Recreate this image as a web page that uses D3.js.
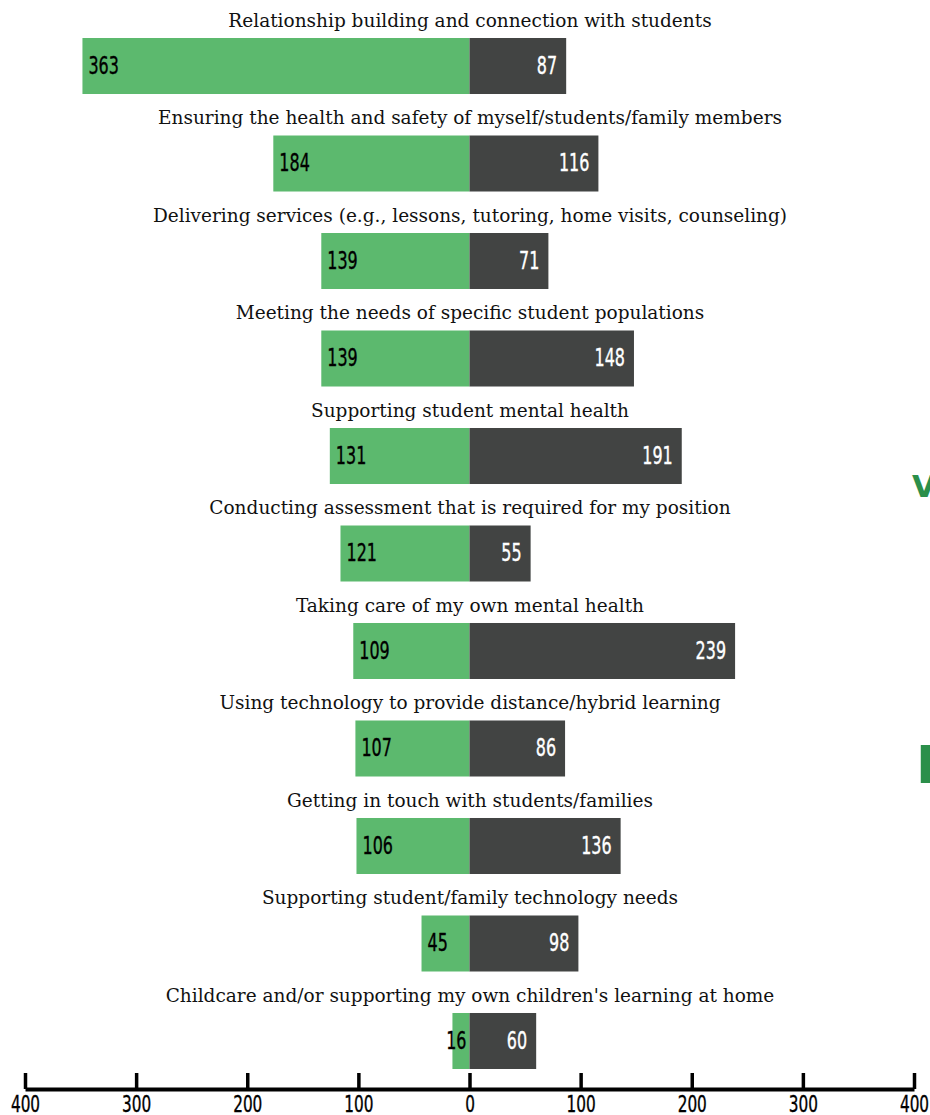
<!DOCTYPE html>
<html>
<head>
<meta charset="utf-8">
<script src="https://d3js.org/d3.v7.min.js"></script>
<style>
  body { margin: 0; background: white; }
  .cat { font-family: "DejaVu Serif", serif; font-size: 18.5px; fill: #111; }
  .val { font-family: "DejaVu Sans Condensed", "DejaVu Sans", sans-serif; font-stretch: condensed; font-size: 24px; stroke-width: 0.35px; }
  .axis text { font-family: "DejaVu Sans Condensed", "DejaVu Sans", sans-serif; font-stretch: condensed; font-size: 23px; fill: #000; stroke: #000; stroke-width: 0.35px; }
</style>
</head>
<body>
<svg id="chart" width="930" height="1115"></svg>
<script>
// categories, top to bottom
var categories = [
  "Relationship building and connection with students",
  "Ensuring the health and safety of myself/students/family members",
  "Delivering services (e.g., lessons, tutoring, home visits, counseling)",
  "Meeting the needs of specific student populations",
  "Supporting student mental health",
  "Conducting assessment that is required for my position",
  "Taking care of my own mental health",
  "Using technology to provide distance/hybrid learning",
  "Getting in touch with students/families",
  "Supporting student/family technology needs",
  "Childcare and/or supporting my own children's learning at home"
];
// green (left) and dark (right) series
var leftValues  = [363, 184, 139, 139, 131, 121, 109, 107, 106, 45, 16];
var rightValues = [87, 116, 71, 148, 191, 55, 239, 86, 136, 98, 60];
var tickValues = [-400, -300, -200, -100, 0, 100, 200, 300, 400];

var rows = categories.map(function(c, i) {
  return { cat: c, left: leftValues[i], right: rightValues[i] };
});

var svg = d3.select("#chart");
var squeeze = 0.74; // narrow the number font

var x = d3.scaleLinear().domain([-400, 400]).range([25, 914]);
var zero = x(0);
// the green bars come out a little shorter than the axis in the original
var xLeft = d3.scaleLinear().domain([0, 400]).range([0, 426.5]);

var y = d3.scaleBand()
  .domain(categories)
  .range([38, 1069])
  .paddingInner(0.4256)
  .paddingOuter(0);

var green = "#5cb96e", dark = "#424443";

var g = svg.append("g");

// category titles
g.selectAll(".cat")
  .data(rows)
  .enter().append("text")
  .attr("class", "cat")
  .attr("x", 470)
  .attr("y", function(d) { return y(d.cat) - 11; })
  .attr("text-anchor", "middle")
  .text(function(d) { return d.cat; });

// left bars
g.selectAll(".lbar")
  .data(rows)
  .enter().append("rect")
  .attr("class", "lbar")
  .attr("x", function(d) { return zero - xLeft(d.left); })
  .attr("y", function(d) { return y(d.cat); })
  .attr("width", function(d) { return xLeft(d.left); })
  .attr("height", y.bandwidth())
  .attr("fill", green);

// right bars
g.selectAll(".rbar")
  .data(rows)
  .enter().append("rect")
  .attr("class", "rbar")
  .attr("x", zero)
  .attr("y", function(d) { return y(d.cat); })
  .attr("width", function(d) { return x(d.right) - zero; })
  .attr("height", y.bandwidth())
  .attr("fill", dark);

// left labels
g.selectAll(".lval")
  .data(rows)
  .enter().append("text")
  .attr("class", "val")
  .attr("fill", "#000")
  .attr("stroke", "#000")
  .attr("dy", "0.36em")
  .text(function(d) { return d.left; })
  .attr("transform", function(d) {
    var w = this.getComputedTextLength() * squeeze;
    var tx = Math.min(zero - xLeft(d.left) + 6, zero - 3 - w);
    var ty = y(d.cat) + y.bandwidth() / 2 - 1;
    return "translate(" + tx + "," + ty + ") scale(" + squeeze + ",1)";
  });

// right labels
g.selectAll(".rval")
  .data(rows)
  .enter().append("text")
  .attr("class", "val")
  .attr("fill", "#fff")
  .attr("stroke", "#fff")
  .attr("text-anchor", "end")
  .attr("dy", "0.36em")
  .attr("transform", function(d) {
    var tx = x(d.right) - 9;
    var ty = y(d.cat) + y.bandwidth() / 2 - 1;
    return "translate(" + tx + "," + ty + ") scale(" + squeeze + ",1)";
  })
  .text(function(d) { return d.right; });

// axis
var axis = svg.append("g")
  .attr("class", "axis")
  .attr("transform", "translate(0,1089)")
  .call(d3.axisBottom(x)
    .tickValues(tickValues)
    .tickFormat(function(d) { return Math.abs(d); })
    .tickSizeInner(-16)
    .tickSizeOuter(0)
    .tickPadding(7));
axis.select(".domain").attr("stroke", "#000").attr("stroke-width", 4);
axis.selectAll(".tick line").attr("stroke", "#000").attr("stroke-width", 3.5);
axis.selectAll(".tick text").attr("transform", "scale(" + squeeze + ",1)");

// clipped letters of a heading sitting off to the right
svg.append("text")
  .attr("x", 912).attr("y", 497)
  .attr("font-family", "DejaVu Sans").attr("font-weight", "bold")
  .attr("font-size", 31).attr("fill", "#2b8f4a")
  .text("V");
svg.append("text")
  .attr("x", 916).attr("y", 783)
  .attr("font-family", "DejaVu Sans").attr("font-weight", "bold")
  .attr("font-size", 52).attr("fill", "#2b8f4a")
  .text("K");
</script>
</body>
</html>
